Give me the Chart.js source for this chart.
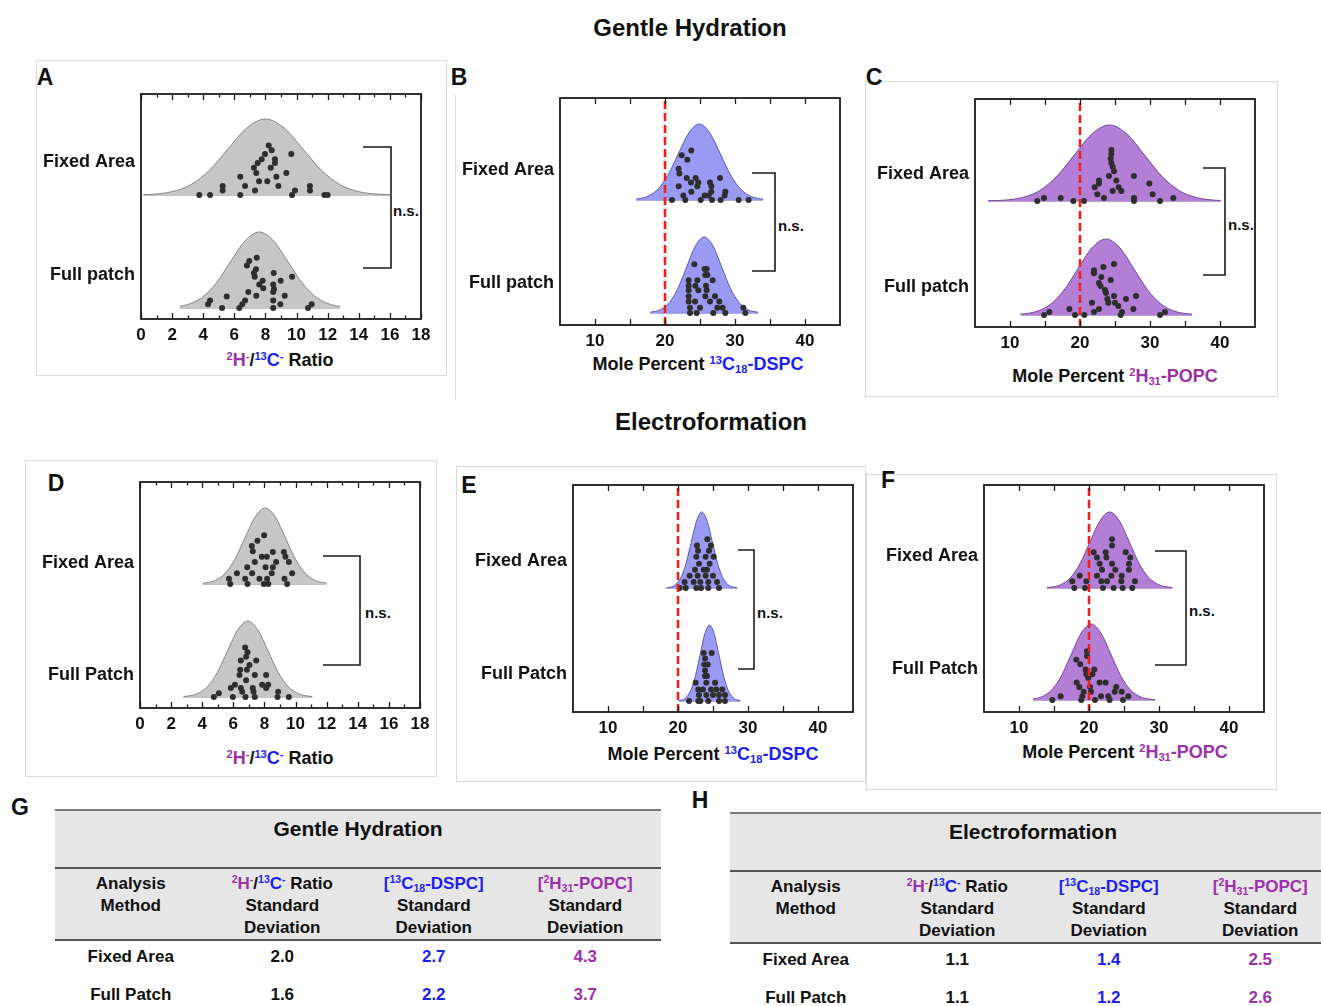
<!DOCTYPE html>
<html>
<head>
<meta charset="utf-8">
<script src="https://cdn.jsdelivr.net/npm/chart.js@4.4.1/dist/chart.umd.min.js"></script>
<style>
  body { margin: 0; width: 1321px; height: 1006px; overflow: hidden; background: #fff; position: relative;
         font-family: "Liberation Sans", Arial, Helvetica, sans-serif; color: #111; }
  canvas { position: absolute; }
  .t { position: absolute; transform: translate(-50%, -50%); white-space: nowrap; font-weight: bold; }
  .ttl { font-size: 24px; }
  .let { font-size: 23px; }
  .ax { font-size: 18px; }
  .ns { position: absolute; transform: translateY(-50%); font-size: 15px; font-weight: bold; }
  .box { position: absolute; border: 1px solid #dadada; box-sizing: border-box; }
  .pu { color: #9c31a9; }
  .bl { color: #1e1ef0; }
  sup, sub { font-size: 62%; vertical-align: 0; position: relative; line-height: 0; }
  sup { top: -0.55em; }
  sub { top: 0.3em; }
  .tbl { position: absolute; width: 606px; font-weight: bold; }
  .th1 { height: 58px; box-sizing: border-box; background: #e6e6e6; border-top: 2px solid #7a7a7a;
         text-align: center; font-size: 21px; line-height: 24px; padding-top: 6px; }
  .th2 { display: flex; height: 74px; box-sizing: border-box; background: #e6e6e6; border-top: 2px solid #555;
         border-bottom: 2px solid #555; font-size: 17px; line-height: 22px; padding-top: 4px; }
  .row { display: flex; height: 38px; box-sizing: border-box; font-size: 17px; line-height: 22px; padding-top: 5px; }
  .cell { width: 151.5px; text-align: center; }
</style>
</head>
<body>

<div class="t ttl" style="left:690px;top:28px">Gentle Hydration</div>
<div class="t ttl" style="left:711px;top:422px">Electroformation</div>

<div class="box" style="left:36px;top:60px;width:411px;height:316px"></div>
<div class="box" style="left:455px;top:95px;width:1px;height:305px;border-width:0 0 0 1px"></div>
<div class="box" style="left:865px;top:81px;width:413px;height:316px"></div>
<div class="box" style="left:25px;top:460px;width:412px;height:317px"></div>
<div class="box" style="left:456px;top:466px;width:410px;height:316px"></div>
<div class="box" style="left:866px;top:474px;width:411px;height:316px"></div>

<div class="t let" style="left:45px;top:77px">A</div>
<div class="t let" style="left:459px;top:77px">B</div>
<div class="t let" style="left:874px;top:77px">C</div>
<div class="t let" style="left:56px;top:483px">D</div>
<div class="t let" style="left:469px;top:485px">E</div>
<div class="t let" style="left:888px;top:480px">F</div>
<div class="t let" style="left:20px;top:807px">G</div>
<div class="t let" style="left:700px;top:800px">H</div>

<div class="t ax" style="left:280px;top:360px"><span class="pu"><sup>2</sup>H<sup>-</sup></span>/<span class="bl"><sup>13</sup>C<sup>-</sup></span> Ratio</div>
<div class="t ax" style="left:698px;top:364px">Mole Percent <span class="bl"><sup>13</sup>C<sub>18</sub>-DSPC</span></div>
<div class="t ax" style="left:1115px;top:376px">Mole Percent <span class="pu"><sup>2</sup>H<sub>31</sub>-POPC</span></div>
<div class="t ax" style="left:280px;top:758px"><span class="pu"><sup>2</sup>H<sup>-</sup></span>/<span class="bl"><sup>13</sup>C<sup>-</sup></span> Ratio</div>
<div class="t ax" style="left:713px;top:754px">Mole Percent <span class="bl"><sup>13</sup>C<sub>18</sub>-DSPC</span></div>
<div class="t ax" style="left:1125px;top:752px">Mole Percent <span class="pu"><sup>2</sup>H<sub>31</sub>-POPC</span></div>

<div class="ns" style="left:393px;top:210px">n.s.</div>
<div class="ns" style="left:778px;top:225px">n.s.</div>
<div class="ns" style="left:1228px;top:224px">n.s.</div>
<div class="ns" style="left:365px;top:612px">n.s.</div>
<div class="ns" style="left:757px;top:612px">n.s.</div>
<div class="ns" style="left:1189px;top:610px">n.s.</div>

<script>
// ---------- data ----------
const ratioTicks = [0, 2, 4, 6, 8, 10, 12, 14, 16, 18];
const ratioMinorTicks = [1, 3, 5, 7, 9, 11, 13, 15, 17];
const moleTicks = [10, 20, 30, 40];
const moleMinorTicks = [15, 25, 35];
const refPercent = [20];

const groupsGentle = ['Fixed Area', 'Full patch'];
const groupsElectro = ['Fixed Area', 'Full Patch'];

// fitted curves: [value, relative height]
const curveA_fixed = [[0.15,0.004],[0.8,0.011],[2.0,0.044],[3.2,0.135],[4.4,0.325],[5.6,0.607],[6.8,0.882],[8.0,1],[9.2,0.882],[10.4,0.607],[11.6,0.325],[12.8,0.135],[14.0,0.044],[15.2,0.011],[16.0,0.004]];
const curveA_full = [[2.5,0.022],[3.0,0.045],[3.9,0.135],[4.83,0.325],[5.75,0.607],[6.68,0.882],[7.6,1],[8.53,0.882],[9.45,0.607],[10.38,0.325],[11.3,0.135],[12.23,0.044],[12.8,0.019]];
const curveB_fixed = [[15.9,0.011],[17.4,0.044],[18.9,0.135],[20.4,0.325],[21.9,0.607],[23.4,0.882],[24.9,1],[26.4,0.882],[27.9,0.607],[29.4,0.325],[30.9,0.135],[32.4,0.044],[34.0,0.01]];
const curveB_full = [[17.9,0.009],[19.35,0.044],[20.6,0.135],[21.85,0.325],[23.1,0.607],[24.35,0.882],[25.6,1],[26.85,0.882],[28.1,0.607],[29.35,0.325],[30.6,0.135],[31.85,0.044],[33.3,0.009]];
const curveC_fixed = [[6.9,0.0025],[9.2,0.011],[11.7,0.044],[14.2,0.135],[16.7,0.325],[19.2,0.607],[21.7,0.882],[24.2,1],[26.7,0.882],[29.2,0.607],[31.7,0.325],[34.2,0.135],[36.7,0.044],[39.2,0.011],[40.1,0.006]];
const curveC_full = [[11.5,0.01],[13.7,0.044],[15.7,0.135],[17.7,0.325],[19.7,0.607],[21.7,0.882],[23.7,1],[25.7,0.882],[27.7,0.607],[29.7,0.325],[31.7,0.135],[33.7,0.044],[36.0,0.009]];
const curveD_fixed = [[4.05,0.009],[4.8,0.044],[5.45,0.135],[6.1,0.325],[6.75,0.607],[7.4,0.882],[8.05,1],[8.7,0.882],[9.35,0.607],[10.0,0.325],[10.65,0.135],[11.3,0.044],[12.0,0.01]];
const curveD_full = [[2.8,0.006],[3.03,0.011],[3.68,0.044],[4.33,0.135],[4.98,0.325],[5.63,0.607],[6.28,0.882],[6.93,1],[7.58,0.882],[8.23,0.607],[8.88,0.325],[9.53,0.135],[10.18,0.044],[10.83,0.011],[11.07,0.006]];
const curveE_fixed = [[18.35,0.003],[18.9,0.011],[19.65,0.044],[20.4,0.135],[21.15,0.325],[21.9,0.607],[22.65,0.882],[23.4,1],[24.15,0.882],[24.9,0.607],[25.65,0.325],[26.4,0.135],[27.15,0.044],[27.9,0.011],[28.45,0.003]];
const curveE_full = [[20.15,0.005],[20.45,0.011],[21.13,0.044],[21.8,0.135],[22.48,0.325],[23.15,0.607],[23.83,0.882],[24.5,1],[25.18,0.882],[25.85,0.607],[26.53,0.325],[27.2,0.135],[27.88,0.044],[28.55,0.011],[28.9,0.005]];
const curveF_fixed = [[14.0,0.006],[14.55,0.011],[15.95,0.044],[17.35,0.135],[18.75,0.325],[20.15,0.607],[21.55,0.882],[22.95,1],[24.35,0.882],[25.75,0.607],[27.15,0.325],[28.55,0.135],[29.95,0.044],[31.35,0.011],[31.9,0.006]];
const curveF_full = [[12.0,0.012],[13.3,0.044],[14.7,0.135],[16.1,0.325],[17.5,0.607],[18.9,0.882],[20.3,1],[21.7,0.882],[23.1,0.607],[24.5,0.325],[25.9,0.135],[27.3,0.044],[28.7,0.011],[29.45,0.005]];

// individual patches: [value, jitter above baseline in curve heights]
const dotsA_fixed = [[3.75,0],[4.44,0],[6.38,0],[9.71,0],[11.79,0],[12.0,0],[5.25,0.12],[5.25,0.06],[6.38,0.24],[6.69,0.12],[7.33,0.06],[7.26,0.36],[7.41,0.29],[7.5,0.42],[7.59,0.18],[7.76,0.47],[7.97,0.54],[8.12,0.18],[8.21,0.65],[8.4,0.59],[8.34,0.36],[8.61,0.47],[8.61,0.42],[8.7,0.24],[8.83,0.12],[9.34,0.29],[9.66,0.54],[9.9,0.06],[10.86,0.12],[10.86,0.06]];
const dotsA_full = [[4.31,0.05],[4.44,0.1],[5.21,0],[5.51,0.15],[6.32,0],[6.51,0.05],[6.69,0.1],[6.9,0.21],[6.81,0.56],[6.96,0.62],[7.44,0.66],[7.39,0.51],[7.26,0.46],[7.31,0.41],[7.41,0.16],[7.6,0.31],[7.82,0.36],[7.86,0.26],[8.53,0.46],[8.5,0.31],[8.55,0.25],[8.5,0.21],[8.5,0.1],[8.5,0],[8.98,0.36],[8.96,0.05],[9.24,0.16],[9.71,0.41],[10.74,0],[10.97,0.05]];
const dotsB_fixed = [[23.76,0.65],[22.38,0.59],[23.19,0.53],[21.95,0.41],[22.05,0.35],[23.1,0.29],[24.38,0.29],[27.86,0.29],[23.71,0.23],[24.76,0.23],[26.43,0.23],[21.95,0.18],[24.62,0.18],[26.62,0.18],[23.76,0.11],[26.62,0.11],[28.62,0.11],[22.62,0.06],[25.67,0.06],[26.24,0.06],[28.52,0.06],[21.0,0],[22.9,0],[25.1,0],[26.71,0],[27.95,0],[30.52,0],[31.95,0]];
const dotsB_full = [[24.19,0.64],[25.67,0.58],[25.95,0.58],[25.76,0.5],[26.05,0.5],[23.38,0.43],[24.62,0.43],[26.81,0.43],[23.38,0.36],[24.33,0.36],[25.86,0.36],[23.38,0.3],[24.76,0.3],[25.95,0.3],[23.38,0.22],[25.76,0.22],[27.14,0.22],[23.38,0.15],[24.29,0.15],[26.43,0.15],[27.76,0.15],[23.57,0.07],[25.0,0.07],[27.48,0.07],[28.24,0.07],[31.19,0.07],[23.57,0],[24.52,0],[26.9,0],[28.62,0],[31.48,0]];
const dotsC_fixed = [[24.48,0.67],[24.48,0.62],[24.38,0.56],[24.48,0.5],[24.67,0.45],[24.86,0.39],[24.14,0.33],[27.71,0.33],[29.9,0.23],[22.71,0.27],[22.71,0.23],[25.19,0.27],[22.1,0.18],[25.52,0.18],[24.67,0.13],[25.9,0.13],[22.48,0.09],[30.38,0.09],[23.43,0.04],[27.71,0.04],[27.71,0],[13.9,0],[14.86,0.04],[17.24,0.04],[19.05,0],[20.57,0],[31.43,0],[33.33,0.04]];
const dotsC_full = [[24.86,0.67],[23.33,0.63],[22,0.59],[22,0.55],[23.05,0.5],[24.38,0.46],[22.71,0.42],[22.95,0.38],[23.57,0.33],[23.71,0.29],[24.86,0.25],[28,0.25],[21.71,0.16],[23.9,0.21],[24.05,0.16],[25,0.16],[25.48,0.12],[26.57,0.21],[18.48,0.08],[22.71,0.08],[22,0.04],[26,0.04],[25.81,0],[27.62,0.08],[32.14,0.04],[31.43,0],[15.62,0.04],[14.86,0],[19.29,0],[20.62,0]];
const dotsD_fixed = [[7.98,0.64],[7.55,0.57],[7.19,0.5],[7.25,0.43],[7.83,0.36],[8.15,0.36],[8.54,0.42],[9.25,0.42],[9.35,0.36],[7.38,0.29],[8.75,0.29],[9.57,0.29],[6.89,0.22],[8.07,0.22],[8.54,0.22],[7.21,0.14],[8.47,0.14],[9.78,0.14],[6.23,0.14],[5.72,0.07],[6.76,0.07],[7.68,0.07],[8.17,0.07],[9.29,0.07],[5.8,0],[6.91,0],[7.96,0],[8.25,0],[9.46,0]];
const dotsD_full = [[6.76,0.65],[6.91,0.59],[6.82,0.53],[6.48,0.48],[7.47,0.48],[7.04,0.42],[6.44,0.36],[6.87,0.36],[6.4,0.29],[7.38,0.29],[8.11,0.29],[6.82,0.22],[6.1,0.16],[7.85,0.16],[8.24,0.16],[5.84,0.12],[6.48,0.12],[7.25,0.12],[8.11,0.12],[6.57,0.07],[7.3,0.07],[8.88,0.07],[5.07,0.05],[4.75,0],[5.97,0],[6.78,0],[7.38,0],[8.84,0],[9.57,0]];
const dotsE_fixed = [[24.19,0.64],[22.71,0.56],[24.71,0.56],[22.86,0.49],[24.43,0.49],[22.62,0.41],[23.95,0.41],[25.1,0.41],[23.0,0.32],[24.52,0.32],[22.43,0.24],[23.67,0.24],[24.14,0.24],[21.67,0.16],[22.81,0.16],[23.95,0.16],[25.0,0.16],[20.95,0.08],[22.24,0.08],[23.19,0.08],[24.33,0.08],[25.57,0.08],[20.24,0],[21.1,0],[22.62,0],[23.29,0],[24.33,0],[25.86,0]];
const dotsE_full = [[23.67,0.63],[24.81,0.63],[23.86,0.56],[23.76,0.48],[24.24,0.48],[23.86,0.4],[23.86,0.33],[24.14,0.33],[22.52,0.24],[24.05,0.24],[25.29,0.24],[22.9,0.15],[23.57,0.15],[24.71,0.15],[25.48,0.15],[26.33,0.15],[23.0,0.08],[24.05,0.08],[25.0,0.08],[25.86,0.08],[26.71,0.08],[21.57,0],[22.9,0],[23.19,0],[24.33,0],[25.86,0],[26.71,0]];
const dotsF_fixed = [[23.29,0.64],[23.29,0.56],[20.67,0.47],[22.38,0.47],[25.24,0.47],[21.14,0.4],[22.48,0.4],[25.9,0.4],[21.52,0.32],[23.29,0.32],[25.71,0.32],[21.86,0.24],[23.76,0.24],[25.71,0.24],[18.67,0.16],[21.14,0.16],[23.19,0.16],[24.67,0.16],[17.62,0.09],[19.62,0.09],[21.76,0.09],[22.57,0.09],[24.62,0.09],[26.57,0.09],[17.9,0],[19.43,0],[22.0,0],[23.52,0],[24.81,0],[26.19,0]];
const dotsF_full = [[19.71,0.64],[19.71,0.58],[18.19,0.53],[18.76,0.47],[19.52,0.4],[20.76,0.4],[19.62,0.34],[20.48,0.34],[19.9,0.29],[18.24,0.23],[21.52,0.23],[22.38,0.23],[18.62,0.17],[20.14,0.17],[23.9,0.17],[24.67,0.11],[23.67,0.11],[19.24,0.11],[20.29,0.11],[15.95,0.05],[19.05,0.05],[21.71,0.05],[22.76,0.05],[25.62,0.05],[14.76,0],[18.9,0],[20.86,0],[22.95,0],[24.86,0]];

// tables G and H
const tableMethods = ['Fixed Area', 'Full Patch'];
const gentleRatioSD = ['2.0', '1.6'];
const gentleDspcSD = ['2.7', '2.2'];
const gentlePopcSD = ['4.3', '3.7'];
const electroRatioSD = ['1.1', '1.1'];
const electroDspcSD = ['1.4', '1.2'];
const electroPopcSD = ['2.5', '2.6'];

// ---------- styling / layout ----------
Chart.defaults.font.family = '"Liberation Sans", Arial, Helvetica, sans-serif';
Chart.defaults.color = '#111';

const PEAK = 76;                          // px height of each curve
const PAD = { l: 140, t: 26, r: 30, b: 40 };
const GRAY = { fill: '#c6c6c6', line: '#858585' };
const BLUE = { fill: '#9a9af2', line: '#5a5ab8' };
const PURPLE = { fill: '#b27ed6', line: '#774796' };

const panels = [
  { plot: [141, 94, 421, 319], x: [0, 18], ticks: ratioTicks, minor: ratioMinorTicks, minorLen: 3.5,
    base: [124, 11], labelAt: [157, 44], names: groupsGentle, bracket: [363, 391, 147, 268], ref: null,
    color: GRAY, curves: [curveA_fixed, curveA_full], dots: [dotsA_fixed, dotsA_full] },
  { plot: [560, 98, 840, 325], x: [5, 45], ticks: moleTicks, minor: moleMinorTicks, minorLen: 6,
    base: [125, 12], labelAt: [155, 42], names: groupsGentle, bracket: [752, 775, 173, 271], ref: refPercent,
    color: BLUE, curves: [curveB_fixed, curveB_full], dots: [dotsB_fixed, dotsB_full] },
  { plot: [975, 99, 1255, 327], x: [5, 45], ticks: moleTicks, minor: moleMinorTicks, minorLen: 6,
    base: [126, 12], labelAt: [153, 40], names: groupsGentle, bracket: [1203, 1225, 168, 275], ref: refPercent,
    color: PURPLE, curves: [curveC_fixed, curveC_full], dots: [dotsC_fixed, dotsC_full] },
  { plot: [140, 482, 420, 708], x: [0, 18], ticks: ratioTicks, minor: ratioMinorTicks, minorLen: 3.5,
    base: [124, 11], labelAt: [145, 33], names: groupsElectro, bracket: [323, 360, 556, 665], ref: null,
    color: GRAY, curves: [curveD_fixed, curveD_full], dots: [dotsD_fixed, dotsD_full] },
  { plot: [573, 485, 853, 712], x: [5, 45], ticks: moleTicks, minor: moleMinorTicks, minorLen: 6,
    base: [124, 11], labelAt: [151, 38], names: groupsElectro, bracket: [738, 754, 550, 669], ref: refPercent,
    color: BLUE, curves: [curveE_fixed, curveE_full], dots: [dotsE_fixed, dotsE_full] },
  { plot: [984, 485, 1264, 712], x: [5, 45], ticks: moleTicks, minor: moleMinorTicks, minorLen: 6,
    base: [124, 12], labelAt: [156, 43], names: groupsElectro, bracket: [1155, 1186, 551, 665], ref: refPercent,
    color: PURPLE, curves: [curveF_fixed, curveF_full], dots: [dotsF_fixed, dotsF_full] },
];

// frame, inward ticks and the n.s. bracket
const panelDecor = {
  id: 'panelDecor',
  afterDraw(chart, args, o) {
    const { ctx, chartArea: a } = chart;
    const xs = chart.scales.x;
    ctx.save();
    ctx.strokeStyle = '#1b1b1b';
    ctx.lineWidth = 1.3;
    const tick = (v, len) => {
      const px = Math.round(xs.getPixelForValue(v)) + 0.5;
      ctx.beginPath();
      ctx.moveTo(px, a.bottom); ctx.lineTo(px, a.bottom - len);
      ctx.moveTo(px, a.top); ctx.lineTo(px, a.top + len);
      ctx.stroke();
    };
    o.major.forEach(v => tick(v, 6));
    o.minor.forEach(v => tick(v, o.minorLen));
    ctx.lineWidth = 1.8;
    ctx.strokeRect(a.left, a.top, a.right - a.left, a.bottom - a.top);
    const [x1, x2, y1, y2] = o.bracket;
    ctx.lineWidth = 1.6;
    ctx.beginPath();
    ctx.moveTo(x1 - o.offX, y1 - o.offY);
    ctx.lineTo(x2 - o.offX, y1 - o.offY);
    ctx.lineTo(x2 - o.offX, y2 - o.offY);
    ctx.lineTo(x1 - o.offX, y2 - o.offY);
    ctx.stroke();
    ctx.restore();
  }
};

function buildPanel(p) {
  const [l, t, r, b] = p.plot;
  const w = r - l, h = b - t;
  const cv = document.createElement('canvas');
  cv.width = w + PAD.l + PAD.r;
  cv.height = h + PAD.t + PAD.b;
  cv.style.left = (l - PAD.l) + 'px';
  cv.style.top = (t - PAD.t) + 'px';
  document.body.appendChild(cv);

  const bases = [p.base[0] / PEAK, p.base[1] / PEAK];
  const datasets = [];
  p.curves.forEach((c, i) => {
    datasets.push({
      type: 'line', data: c.map(([x, v]) => ({ x, y: bases[i] + v })),
      fill: { value: bases[i] }, backgroundColor: p.color.fill, borderColor: p.color.line,
      borderWidth: 1, pointRadius: 0, cubicInterpolationMode: 'monotone', order: 3
    });
    datasets.push({
      type: 'line', data: [{ x: c[0][0], y: bases[i] }, { x: c[c.length - 1][0], y: bases[i] }],
      borderColor: p.color.line, borderWidth: 1, pointRadius: 0, fill: false, order: 3
    });
  });
  p.dots.forEach((d, i) => {
    datasets.push({
      type: 'scatter', data: d.map(([x, j]) => ({ x, y: bases[i] + j })),
      backgroundColor: '#2e2e2e', borderWidth: 0, pointRadius: 3, order: 2
    });
  });
  if (p.ref) {
    datasets.push({
      type: 'line', data: [{ x: p.ref[0], y: 0 }, { x: p.ref[0], y: h / PEAK }],
      borderColor: '#e8221c', borderWidth: 2.6, borderDash: [8, 4], pointRadius: 0, fill: false, order: 1
    });
  }

  new Chart(cv, {
    type: 'scatter',
    data: { datasets },
    plugins: [panelDecor],
    options: {
      responsive: false,
      animation: false,
      events: [],
      layout: { padding: { left: 0, top: PAD.t, right: PAD.r, bottom: 0 } },
      plugins: {
        legend: { display: false },
        tooltip: { enabled: false },
        panelDecor: { major: p.ticks, minor: p.minor, minorLen: p.minorLen, bracket: p.bracket,
                      offX: l - PAD.l, offY: t - PAD.t }
      },
      scales: {
        x: {
          type: 'linear', min: p.x[0], max: p.x[1],
          grid: { display: false, drawTicks: false }, border: { display: false },
          afterBuildTicks: s => { s.ticks = p.ticks.map(v => ({ value: v })); },
          afterFit: s => { s.height = PAD.b; },
          ticks: { font: { size: 17, weight: 'bold' }, color: '#111', padding: 6, autoSkip: false, maxRotation: 0 }
        },
        y: {
          type: 'linear', min: 0, max: h / PEAK,
          grid: { display: false, drawTicks: false }, border: { display: false },
          afterBuildTicks: s => { s.ticks = [{ value: p.labelAt[1] / PEAK }, { value: p.labelAt[0] / PEAK }]; },
          afterFit: s => { s.width = PAD.l; },
          ticks: { font: { size: 18, weight: 'bold' }, color: '#111', padding: 6,
                   callback: (v, i) => (i === 0 ? p.names[1] : p.names[0]) }
        }
      }
    }
  });
}

panels.forEach(buildPanel);

// ---------- tables ----------
const colHeads = [
  'Analysis<br>Method',
  '<span class="pu"><sup>2</sup>H<sup>-</sup></span>/<span class="bl"><sup>13</sup>C<sup>-</sup></span> Ratio<br>Standard<br>Deviation',
  '<span class="bl">[<sup>13</sup>C<sub>18</sub>-DSPC]</span><br>Standard<br>Deviation',
  '<span class="pu">[<sup>2</sup>H<sub>31</sub>-POPC]</span><br>Standard<br>Deviation'
];

function buildTable(left, top, title, sdRatio, sdDspc, sdPopc) {
  const div = document.createElement('div');
  div.className = 'tbl';
  div.style.left = left + 'px';
  div.style.top = top + 'px';
  let html = `<div class="th1">${title}</div><div class="th2">`;
  colHeads.forEach(hd => { html += `<div class="cell">${hd}</div>`; });
  html += '</div>';
  tableMethods.forEach((m, i) => {
    html += `<div class="row"><div class="cell">${m}</div><div class="cell">${sdRatio[i]}</div>` +
            `<div class="cell bl">${sdDspc[i]}</div><div class="cell pu">${sdPopc[i]}</div></div>`;
  });
  div.innerHTML = html;
  document.body.appendChild(div);
}

buildTable(55, 809, 'Gentle Hydration', gentleRatioSD, gentleDspcSD, gentlePopcSD);
buildTable(730, 812, 'Electroformation', electroRatioSD, electroDspcSD, electroPopcSD);
</script>
</body>
</html>
